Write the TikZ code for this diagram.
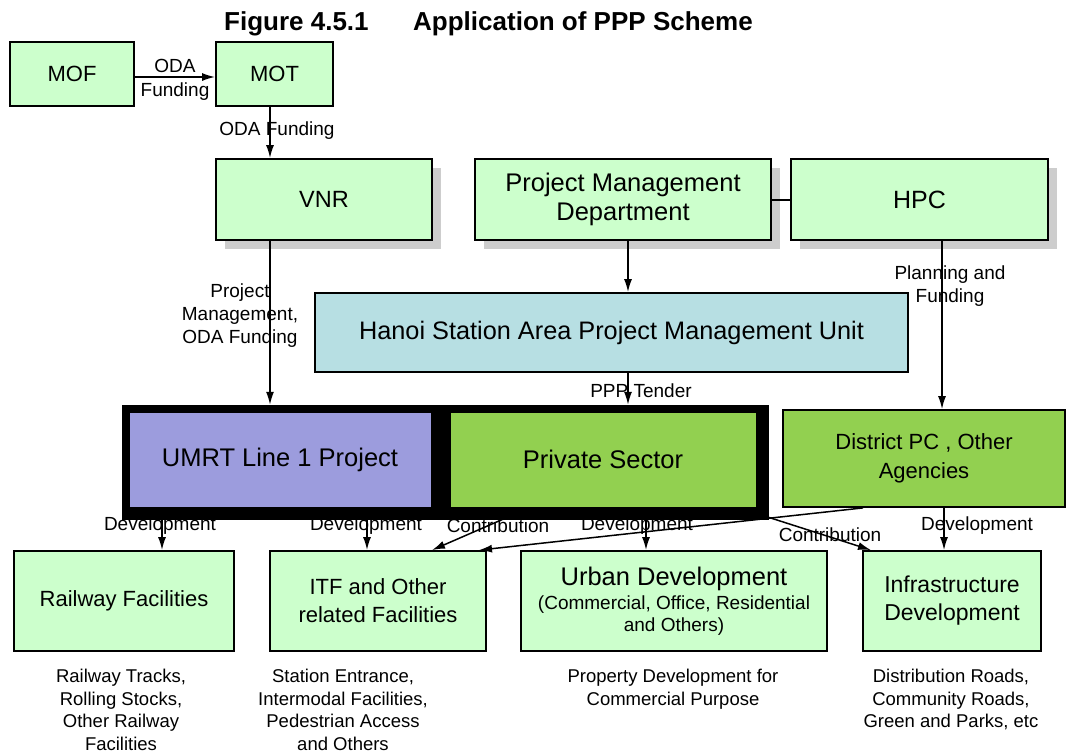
\documentclass[tikz,border=0pt]{standalone}
\usepackage{fontspec}
\setmainfont{Liberation Sans}
\usetikzlibrary{arrows.meta,shadows}
\definecolor{boxgreen}{HTML}{CCFFCC}
\definecolor{unitblue}{HTML}{B7DFE3}
\definecolor{umrtpurple}{HTML}{9C9CDD}
\definecolor{privgreen}{HTML}{92D050}
\definecolor{shadowgray}{HTML}{CDCDCD}
\begin{document}
\begin{tikzpicture}[x=1pt,y=-1pt,
  box/.style={draw=black,line width=1.8pt,fill=boxgreen,align=center,inner sep=0pt,
    font=\fontsize{22}{28}\selectfont},
  grayshadow/.style={drop shadow={shadow xshift=9pt,shadow yshift=-9pt,fill=shadowgray,opacity=1}},
  lbl/.style={font=\fontsize{19}{23}\selectfont,inner sep=0pt,align=center},
  note/.style={font=\fontsize{18.5}{22.5}\selectfont,inner sep=0pt,align=center,anchor=north},
  arr/.style={line width=1.5pt,-{Latex[length=13pt,width=8pt]}},
  link/.style={line width=2pt}]
\useasboundingbox (0,0) rectangle (1066,753);

% title
\node[anchor=west,inner sep=0pt,font=\bfseries\fontsize{26}{30}\selectfont] (fignum) at (224,24) {Figure 4.5.1};
\node[anchor=west,inner sep=0pt,font=\bfseries\fontsize{26}{30}\selectfont] (figtitle) at (413,24) {Application of PPP Scheme};

% ministries
\node[box,minimum width=124pt,minimum height=64pt] (MOF) at (72,74) {MOF};
\node[box,minimum width=117pt,minimum height=64pt] (MOT) at (274.5,74) {MOT};

% upper level
\node[box,grayshadow,minimum width=216pt,minimum height=81pt,font=\fontsize{23.5}{28}\selectfont] (VNR) at (324,199.5) {VNR};
\node[box,grayshadow,minimum width=296pt,minimum height=81pt,font=\fontsize{25.5}{29}\selectfont] (PMD) at (623,199.5) {Project Management\\Department};
\node[box,grayshadow,minimum width=257pt,minimum height=81pt,font=\fontsize{25}{29}\selectfont] (HPC) at (919.5,199.5) {HPC};

% management unit
\node[box,fill=unitblue,minimum width=593pt,minimum height=79pt,font=\fontsize{25.3}{30}\selectfont] (PMU) at (611.5,332.5) {Hanoi Station Area Project Management Unit};

% implementing bodies
\node[fill=black,draw=black,minimum width=646pt,minimum height=114pt,inner sep=0pt] (frame) at (445,462) {};
\node[box,line width=0.8pt,fill=umrtpurple,minimum width=302pt,minimum height=95pt,font=\fontsize{25.5}{30}\selectfont] (UMRT) at (280,459.5) {UMRT Line 1 Project};
\node[box,line width=0.8pt,fill=privgreen,minimum width=306pt,minimum height=95pt,font=\fontsize{25.5}{30}\selectfont] (PRIV) at (603,459.5) {Private Sector};
\node[box,fill=privgreen,minimum width=282pt,minimum height=97pt,font=\fontsize{22}{29}\selectfont] (DPC) at (924,458.5) {District PC , Other\\Agencies};

% developments
\node[box,minimum width=220pt,minimum height=100pt] (RAIL) at (124,601) {Railway Facilities};
\node[box,minimum width=216pt,minimum height=100pt] (ITF) at (378,601) {ITF and Other\\related Facilities};
\node[box,minimum width=306pt,minimum height=100pt,font=\fontsize{25.5}{28}\selectfont] (URB) at (674,601) {Urban Development\\[-4pt]{\fontsize{19}{22}\selectfont (Commercial, Office, Residential}\\[-6pt]{\fontsize{19}{22}\selectfont and Others)}};
\node[box,minimum width=178pt,minimum height=100pt,font=\fontsize{23}{28}\selectfont] (INF) at (952,601) {Infrastructure\\Development};

% descriptions
\node[note] (railnote) at (121,669) {Railway Tracks,\\Rolling Stocks,\\Other Railway\\Facilities};
\node[note] (itfnote) at (343,669) {Station Entrance,\\Intermodal Facilities,\\Pedestrian Access\\and Others};
\node[note] (urbnote) at (673,669) {Property Development for\\Commercial Purpose};
\node[note] (infnote) at (951,669) {Distribution Roads,\\Community Roads,\\Green and Parks, etc};

% funding flows
\draw[arr] (MOF.east |- 0,77) -- (MOT.west |- 0,77);
\node[lbl,font=\fontsize{19}{24}\selectfont] (odaA) at (175,80) {ODA\\Funding};
\draw[arr] (270,0 |- MOT.south) -- (270,0 |- VNR.north);
\node[lbl] (odaB) at (277,131) {ODA Funding};
\draw[arr] (270,0 |- VNR.south) -- (270,0 |- frame.north);
\node[lbl] (pmlbl) at (240,316) {Project\\Management,\\ODA Funding};
\draw[arr] (628,0 |- PMD.south) -- (628,0 |- PMU.north);
\draw[link] (PMD.east) -- (HPC.west);
\draw[arr] (942,0 |- HPC.south) -- (942,0 |- DPC.north);
\node[lbl] (planlbl) at (950,286) {Planning and\\Funding};
\draw[arr] (628,0 |- PMU.south) -- (628,0 |- frame.north);
\node[lbl] (tender) at (641,391) {PPP Tender};

% development flows
\draw[arr] (162,0 |- frame.south) -- (162,0 |- RAIL.north);
\node[lbl] (devA) at (160,526) {Development};
\draw[arr] (367,0 |- frame.south) -- (367,0 |- ITF.north);
\node[lbl] (devB) at (366,526) {Development};
\draw[arr] (503,0 |- frame.south) -- (432,0 |- ITF.north);
\node[lbl] (conA) at (498,526) {Contribution};
\draw[arr] (646,0 |- frame.south) -- (646,0 |- URB.north);
\node[lbl] (devC) at (637,526) {Development};
\draw[arr] (863,0 |- DPC.south) -- (479,0 |- ITF.north);
\draw[arr] (frame.south east) ++(0,-2) -- (871,0 |- INF.north);
\node[lbl] (conB) at (830,535) {Contribution};
\draw[arr] (944,0 |- DPC.south) -- (944,0 |- INF.north);
\node[lbl] (devD) at (977,526) {Development};
\end{tikzpicture}
\end{document}
